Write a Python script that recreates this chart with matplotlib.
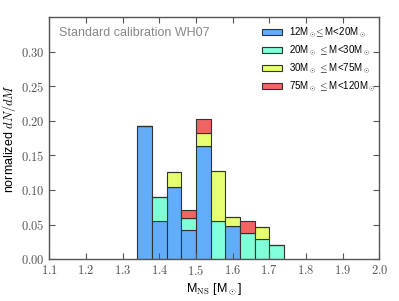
import numpy as np
import matplotlib
matplotlib.use("Agg")
import matplotlib.pyplot as plt

plt.rcParams["font.family"] = ["Liberation Sans", "DejaVu Sans"]
plt.rcParams["mathtext.fontset"] = "cm"

# bin edges of the NS mass histogram
bin_left = [1.34, 1.38, 1.42, 1.46, 1.50, 1.54, 1.58, 1.62, 1.66, 1.70]
bin_width = 0.04

# stacked contributions per progenitor-mass group
blue = [0.192, 0.055, 0.105, 0.043, 0.163, 0.0, 0.048, 0.0, 0.0, 0.0]
teal = [0.0, 0.035, 0.0, 0.016, 0.0, 0.056, 0.0, 0.038, 0.030, 0.021]
yellow = [0.0, 0.0, 0.021, 0.0, 0.019, 0.072, 0.013, 0.0, 0.017, 0.0]
red = [0.0, 0.0, 0.0, 0.012, 0.021, 0.0, 0.0, 0.017, 0.0, 0.0]

labels = [
    r"12M$_\odot\!\!\leq$M<20M$_\odot$",
    r"20M$_\odot$ $\!\leq$M<30M$_\odot$",
    r"30M$_\odot$ $\!\leq$M<75M$_\odot$",
    r"75M$_\odot$ $\!\leq$M<120M$_\odot$",
]
colors = ["#62adfa", "#80ffd8", "#e5ff70", "#f06464"]

xticks = [1.1, 1.2, 1.3, 1.4, 1.5, 1.6, 1.7, 1.8, 1.9, 2.0]
yticks = [0.00, 0.05, 0.10, 0.15, 0.20, 0.25, 0.30]

fig = plt.figure(figsize=(3.99, 3.01), dpi=100)
ax = fig.add_axes([0.1236, 0.1385, 0.8270, 0.8050])

bottom = np.zeros(len(bin_left))
for vals, c, lab in zip([blue, teal, yellow, red], colors, labels):
    vals = np.array(vals)
    ax.bar(bin_left, vals, width=bin_width, bottom=bottom, align="edge",
           color=c, edgecolor="#333333", linewidth=0.8, label=lab)
    bottom += vals

ax.set_xlim(1.1, 2.0)
ax.set_ylim(0, 0.35)
ax.set_xticks(xticks)
ax.set_xticklabels([f"${v:.1f}$" for v in xticks], fontsize=9)
ax.set_yticks(yticks)
ax.set_yticklabels([f"${v:.2f}$" for v in yticks], fontsize=9)
ax.tick_params(direction="in", top=True, right=True, length=4, width=0.8,
               color="#555555", labelcolor="#555555")
for s in ax.spines.values():
    s.set_color("#555555")
    s.set_linewidth(1.0)

ax.set_xlabel(r"M$_{\rm NS}$ [M$_\odot$]", fontsize=9, labelpad=2)
ax.set_ylabel(r"normalized $dN/dM$", fontsize=9, labelpad=2)
ax.text(0.03, 0.96, "Standard calibration WH07", transform=ax.transAxes,
        fontsize=9, color="#888888", va="top", ha="left")

ax.legend(loc="upper left", bbox_to_anchor=(0.645, 0.965), frameon=False,
          fontsize=7, handlelength=2.0, handleheight=0.6,
          handletextpad=0.8, labelspacing=0.4, borderpad=0,
          borderaxespad=0)

fig.savefig("out.png", dpi=100)
